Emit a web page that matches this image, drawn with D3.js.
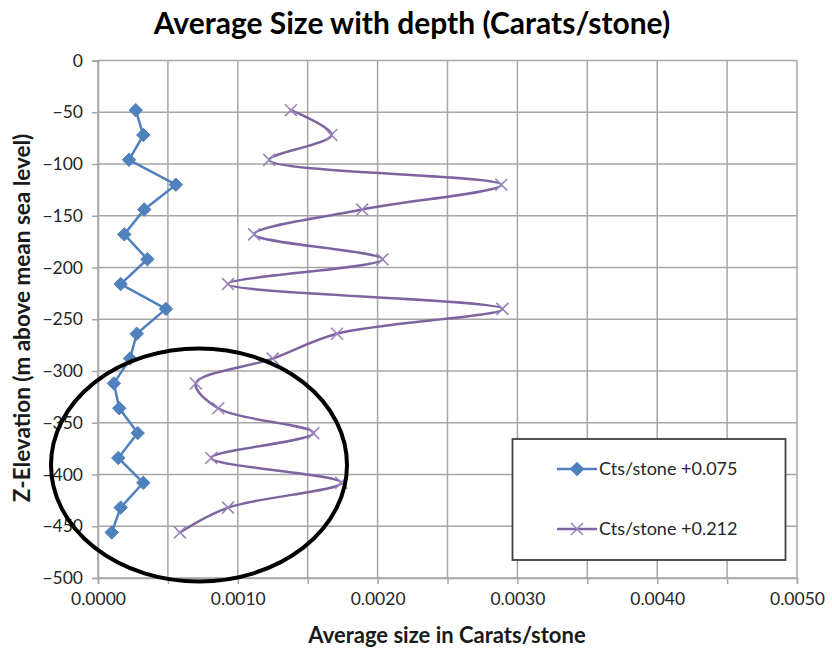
<!DOCTYPE html>
<html>
<head>
<meta charset="utf-8">
<script src="https://cdn.jsdelivr.net/npm/d3@7"></script>
<style>
  html, body { margin: 0; padding: 0; background: #fff; }
  svg { display: block; font-family: Lato, "Open Sans", sans-serif; }
</style>
</head>
<body>
<svg id="chart" width="832" height="652"></svg>
<script>
// ---- data ----
const elevations = [-48, -72, -96, -120, -144, -168, -192, -216, -240, -264, -288, -312, -336, -360, -384, -408, -432, -456];
const cts075 = [0.000270, 0.000324, 0.000222, 0.000557, 0.000331, 0.000188, 0.000353, 0.000162, 0.000486, 0.000277, 0.000229, 0.000114, 0.000152, 0.000284, 0.000145, 0.000324, 0.000162, 0.000098];
const cts212 = [0.001380, 0.001670, 0.001225, 0.002885, 0.001890, 0.001117, 0.002035, 0.000930, 0.002893, 0.001710, 0.001250, 0.000700, 0.000860, 0.001540, 0.000810, 0.001740, 0.000930, 0.000586];
const seriesNames = ["Cts/stone +0.075", "Cts/stone +0.212"];
const xTicks = [0, 0.001, 0.002, 0.003, 0.004, 0.005];
const xGrid = [0, 0.0005, 0.001, 0.0015, 0.002, 0.0025, 0.003, 0.0035, 0.004, 0.0045, 0.005];
const yTicks = [0, -50, -100, -150, -200, -250, -300, -350, -400, -450, -500];

(function () {
const svg = d3.select("#chart");
const pLeft = 98, pRight = 797, pTop = 60.5, pBottom = 578;
const x = d3.scaleLinear().domain([0, 0.005]).range([pLeft, pRight]);
const y = d3.scaleLinear().domain([0, -500]).range([pTop, pBottom]);

const gridColor = "#a6a6a6";

// gridlines
svg.append("g").selectAll("line").data(xGrid).join("line")
  .attr("x1", d => x(d)).attr("x2", d => x(d))
  .attr("y1", pTop).attr("y2", pBottom)
  .attr("stroke", gridColor).attr("stroke-width", 1.5);
svg.append("g").selectAll("line").data(yTicks).join("line")
  .attr("x1", pLeft).attr("x2", pRight)
  .attr("y1", d => y(d)).attr("y2", d => y(d))
  .attr("stroke", gridColor).attr("stroke-width", 1.5);

// axes
const xAxis = d3.axisBottom(x).tickValues(xGrid).tickSize(6).tickFormat(d => xTicks.some(t => Math.abs(t - d) < 1e-9) ? d3.format(".4f")(d) : "");
const gx = svg.append("g").attr("transform", `translate(0,${pBottom})`).call(xAxis);
gx.select(".domain").attr("stroke", gridColor).attr("stroke-width", 1.5);
gx.selectAll(".tick line").attr("stroke", gridColor).attr("stroke-width", 1.5);
gx.selectAll(".tick text").attr("font-size", 17.5).attr("fill", "#262626").attr("y", 15).attr("dy", "0.71em").attr("font-family", "Lato, sans-serif");

const yAxis = d3.axisLeft(y).tickValues(yTicks).tickSize(6).tickFormat(d3.format("d"));
const gy = svg.append("g").attr("transform", `translate(${pLeft},0)`).call(yAxis);
gy.select(".domain").attr("stroke", gridColor).attr("stroke-width", 1.5);
gy.selectAll(".tick line").attr("stroke", gridColor).attr("stroke-width", 1.5);
gy.selectAll(".tick text").attr("font-size", 17.5).attr("fill", "#262626").attr("x", -15).attr("font-family", "Lato, sans-serif");

// series
const blue = "#4f81bd", purple = "#7f63a1";
const pts1 = elevations.map((e, i) => [cts075[i], e]);
const pts2 = elevations.map((e, i) => [cts212[i], e]);

svg.append("path").datum(pts1)
  .attr("d", d3.line().x(d => x(d[0])).y(d => y(d[1])))
  .attr("fill", "none").attr("stroke", blue).attr("stroke-width", 2.5).attr("stroke-linejoin", "round");

svg.append("path").datum(pts2)
  .attr("d", d3.line().x(d => x(d[0])).y(d => y(d[1])).curve(d3.curveCatmullRom.alpha(0.5)))
  .attr("fill", "none").attr("stroke", purple).attr("stroke-width", 2.5);

const diamond = d3.symbol().type(d3.symbolDiamond2).size(115);
svg.append("g").selectAll("path").data(pts1).join("path")
  .attr("transform", d => `translate(${x(d[0])},${y(d[1])})`)
  .attr("d", diamond).attr("fill", blue).attr("stroke", blue).attr("stroke-width", 1);

const cross = d3.symbol().type(d3.symbolX).size(95);
svg.append("g").selectAll("path").data(pts2).join("path")
  .attr("transform", d => `translate(${x(d[0])},${y(d[1])})`)
  .attr("d", cross).attr("fill", "none").attr("stroke", "#9a84bb").attr("stroke-width", 1.6);

// ellipse annotation
svg.append("ellipse").attr("cx", 199).attr("cy", 465).attr("rx", 148).attr("ry", 116.5)
  .attr("fill", "none").attr("stroke", "#000").attr("stroke-width", 4);

// legend
const lg = svg.append("g");
lg.append("rect").attr("x", 512.5).attr("y", 439).attr("width", 273).attr("height", 121)
  .attr("fill", "#fff").attr("stroke", "#404040").attr("stroke-width", 1.8);
const legendRows = [
  { name: seriesNames[0], color: blue, sym: diamond, fill: blue, stroke: blue, yy: 469 },
  { name: seriesNames[1], color: purple, sym: cross, fill: "none", stroke: "#9a84bb", yy: 529 }
];
legendRows.forEach(r => {
  lg.append("line").attr("x1", 557).attr("x2", 597).attr("y1", r.yy).attr("y2", r.yy)
    .attr("stroke", r.color).attr("stroke-width", 2.5);
  lg.append("path").attr("transform", `translate(577,${r.yy})`).attr("d", r.sym)
    .attr("fill", r.fill).attr("stroke", r.stroke).attr("stroke-width", r.fill === "none" ? 1.6 : 1);
  lg.append("text").attr("x", 599).attr("y", r.yy).attr("dy", "0.35em")
    .attr("font-size", 18).attr("fill", "#262626").text(r.name);
});

// titles
svg.append("text").attr("x", 412).attr("y", 34).attr("text-anchor", "middle")
  .attr("font-size", 30).attr("font-weight", "bold").attr("fill", "#000")
  .text("Average Size with depth (Carats/stone)");
svg.append("text").attr("x", 447).attr("y", 643).attr("text-anchor", "middle")
  .attr("font-size", 22).attr("font-weight", "bold").attr("fill", "#1a1a1a")
  .text("Average size in Carats/stone");
svg.append("text").attr("transform", "translate(30,318) rotate(-90)").attr("text-anchor", "middle")
  .attr("font-size", 22.5).attr("font-weight", "bold").attr("fill", "#1a1a1a")
  .text("Z-Elevation (m above mean sea level)");
})();
</script>
</body>
</html>
